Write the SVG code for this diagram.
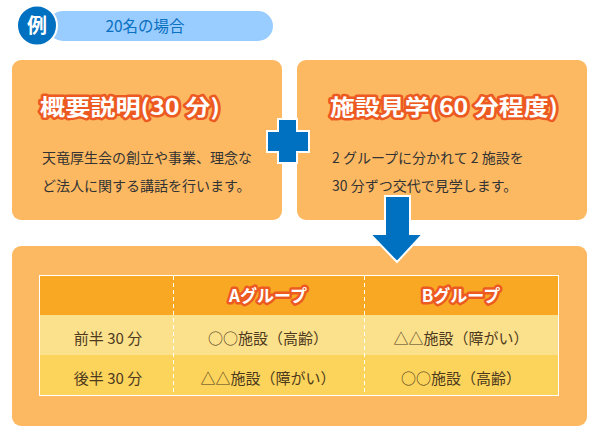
<svg xmlns="http://www.w3.org/2000/svg" width="597" height="436" viewBox="0 0 597 436">
<style>
.box{fill:#fdb962}
.title{font-family:"Noto Sans CJK JP","Noto Sans",sans-serif;font-weight:bold;fill:#fff;stroke:#ec5a22;stroke-width:5;stroke-linejoin:round;paint-order:stroke}
.body{font-family:"Noto Sans CJK JP","Noto Sans",sans-serif;font-size:14px;fill:#333}
.cell{font-family:"Noto Sans CJK JP","Noto Sans",sans-serif;font-size:15px;fill:#4d3a1e;text-anchor:middle}
.blue{fill:#0070c0;stroke:#fff;stroke-width:2}
</style>
<rect width="597" height="436" fill="#fff"/>
<g id="header">
<rect x="48" y="11" width="225" height="30" rx="15" fill="#99ccff"/>
<circle cx="37" cy="25.5" r="20" fill="#0070c0" stroke="#fff" stroke-width="2"/>
<text x="37" y="33" text-anchor="middle" font-family="Noto Sans CJK JP,sans-serif" font-weight="bold" font-size="20" fill="#fff">例</text>
<text x="145" y="32" text-anchor="middle" font-family="Noto Sans CJK JP,sans-serif" font-size="15.5" fill="#0a70c0">20名の場合</text>
</g>
<g id="node-lecture">
<rect class="box" x="12" y="60" width="270" height="160" rx="9"/>
<text class="title" x="40" y="115" font-size="22" textLength="180" lengthAdjust="spacingAndGlyphs">概要説明(30 分)</text>
<text class="body" x="42" y="163">天竜厚生会の創立や事業、理念な</text>
<text class="body" x="42" y="191">ど法人に関する講話を行います。</text>
</g>
<g id="node-tour">
<rect class="box" x="297" y="60" width="290" height="160" rx="9"/>
<text class="title" x="330" y="115" font-size="22" textLength="228" lengthAdjust="spacingAndGlyphs">施設見学(60 分程度)</text>
<text class="body" x="332" y="163">2 グループに分かれて 2 施設を</text>
<text class="body" x="332" y="191">30 分ずつ交代で見学します。</text>
</g>
<g id="node-schedule">
<rect class="box" x="12" y="246" width="575" height="180" rx="9"/>
<rect x="39" y="275" width="520" height="40" fill="#f9a823"/>
<rect x="39" y="315" width="520" height="40" fill="#fce18c"/>
<rect x="39" y="355" width="520" height="41" fill="#fcd45b"/>
<rect x="39.5" y="275.5" width="519" height="120" fill="none" stroke="#fff" stroke-width="1"/>
<line x1="173.5" y1="276" x2="173.5" y2="396" stroke="#fff" stroke-width="1" stroke-dasharray="4,3"/>
<line x1="364.5" y1="276" x2="364.5" y2="396" stroke="#fff" stroke-width="1" stroke-dasharray="4,3"/>
<text class="title" x="268" y="302" font-size="17" text-anchor="middle" stroke-width="4">Aグループ</text>
<text class="title" x="461" y="302" font-size="17" text-anchor="middle" stroke-width="4">Bグループ</text>
<text class="cell" x="108" y="344">前半 30 分</text>
<text class="cell" x="268" y="344">○○施設（高齢）</text>
<text class="cell" x="461" y="344">△△施設（障がい）</text>
<text class="cell" x="108" y="384">後半 30 分</text>
<text class="cell" x="268" y="384">△△施設（障がい）</text>
<text class="cell" x="461" y="384">○○施設（高齢）</text>
</g>
<g id="connectors">
<path class="blue" d="M278,119 H297 V131 H309 V152 H297 V163 H278 V152 H267 V131 H278 Z"/>
<path class="blue" d="M385,196 H410 V234 H423 L397,262 L370,234 H385 Z"/>
</g>
</svg>
